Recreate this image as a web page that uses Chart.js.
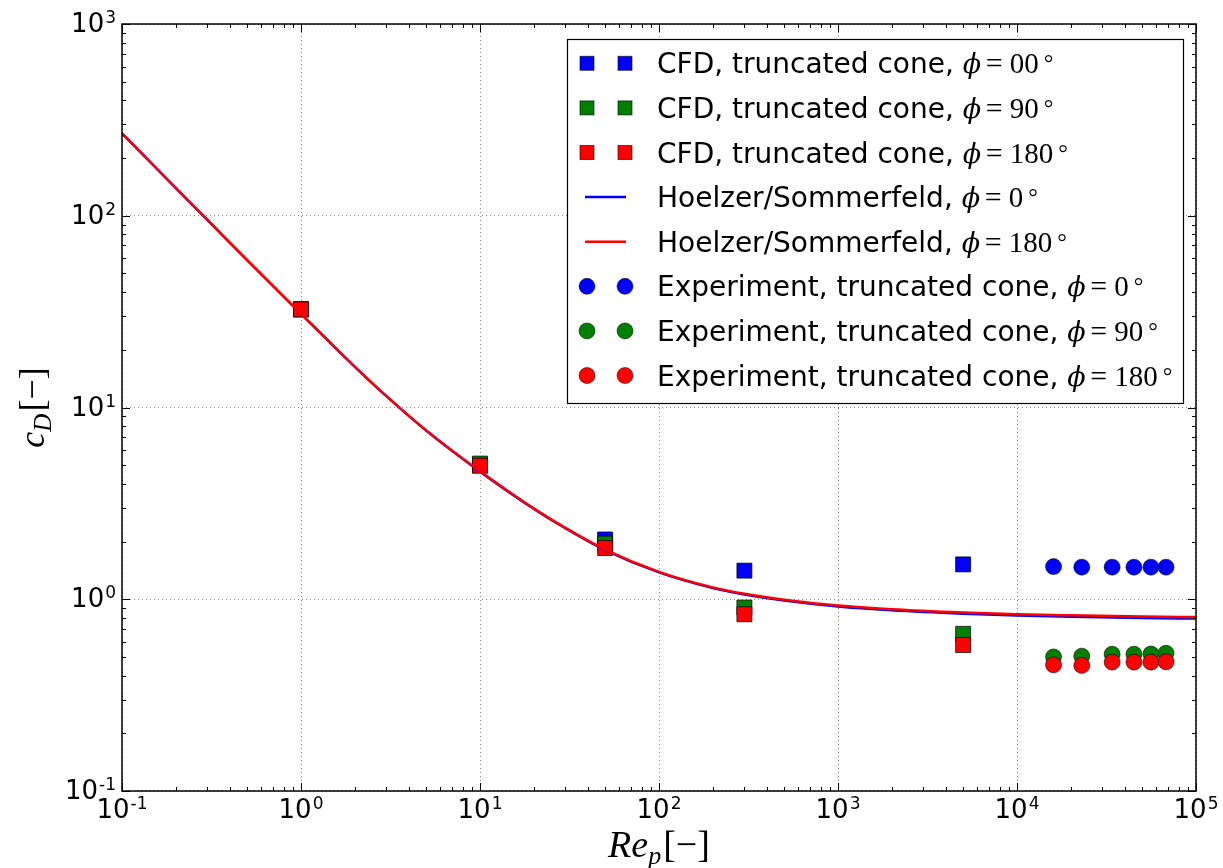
<!DOCTYPE html>
<html>
<head>
<meta charset="utf-8">
<script src="https://cdn.jsdelivr.net/npm/chart.js@4.4.1/dist/chart.umd.min.js"></script>
<style>
  html, body { margin: 0; padding: 0; background: #fff; }
  canvas { display: block; }
</style>
</head>
<body>
<canvas id="chart" width="1223" height="868"></canvas>
<script>
// CFD results (truncated cone) - Re_p and c_D
const cfdRe = [1, 10, 50, 300, 5000];
const cfdPhi0 = [32.5, 5.0, 2.05, 1.41, 1.52];
const cfdPhi90 = [32.5, 5.1, 1.95, 0.905, 0.66];
const cfdPhi180 = [32.5, 4.97, 1.85, 0.835, 0.577];

// Experiment (truncated cone)
const expRe = [16000, 23000, 34000, 45000, 56000, 68000];
const expPhi0 = [1.48, 1.47, 1.47, 1.47, 1.47, 1.47];
const expPhi90 = [0.50, 0.505, 0.517, 0.517, 0.518, 0.523];
const expPhi180 = [0.455, 0.452, 0.47, 0.47, 0.47, 0.472];

// Hoelzer/Sommerfeld correlation
const curveRe = [0.1, 0.2, 0.3, 0.5, 1, 2, 3, 5, 10, 20, 30, 50, 100, 200, 300, 500, 1000, 2000, 5000, 10000, 20000, 50000, 100000];
const hsPhi0 = [269, 139.3, 95.1, 58.7, 30.8, 16.3, 11.46, 7.58, 4.63, 2.96, 2.345, 1.805, 1.38, 1.143, 1.058, 0.984, 0.916, 0.875, 0.84, 0.822, 0.81, 0.799, 0.793];
const hsPhi180 = [269, 139.3, 95.1, 58.7, 30.8, 16.3, 11.46, 7.60, 4.65, 2.97, 2.355, 1.815, 1.39, 1.153, 1.068, 0.994, 0.927, 0.887, 0.853, 0.835, 0.824, 0.813, 0.807];

// axis decades (tick labels are 10^exp)
const xExps = ['-1', '0', '1', '2', '3', '4', '5'];
const yExps = ['-1', '0', '1', '2', '3'];

const legendLabels = [
  'CFD, truncated cone, ', 'CFD, truncated cone, ', 'CFD, truncated cone, ',
  'Hoelzer/Sommerfeld, ', 'Hoelzer/Sommerfeld, ',
  'Experiment, truncated cone, ', 'Experiment, truncated cone, ', 'Experiment, truncated cone, '
];
const legendAngles = ['00', '90', '180', '0', '180', '0', '90', '180'];

const BLUE = '#0000ff', GREEN = '#007f00', RED = '#ff0000';
const legendKinds = ['rect', 'rect', 'rect', 'line', 'line', 'circle', 'circle', 'circle'];
const legendColors = [BLUE, GREEN, RED, BLUE, RED, BLUE, GREEN, RED];

function pts(xs, ys) { return xs.map((x, i) => ({ x: x, y: ys[i] })); }

function logTicks(minExp, maxExp) {
  const out = [];
  for (let e = minExp; e < maxExp; e++) {
    for (let m = 1; m < 10; m++) out.push({ value: m * Math.pow(10, e), major: m === 1 });
  }
  out.push({ value: Math.pow(10, maxExp), major: true });
  return out;
}

function squares(label, ys, color, order) {
  return { label, data: pts(cfdRe, ys), pointStyle: 'rect', pointRadius: 10.6, pointHoverRadius: 10.6,
    backgroundColor: color, borderColor: 'rgba(0,0,0,0.7)', borderWidth: 1, order };
}
function circles(label, ys, color, order) {
  return { label, data: pts(expRe, ys), pointStyle: 'circle', pointRadius: 8, pointHoverRadius: 8,
    backgroundColor: color, borderColor: 'rgba(0,0,0,0.55)', borderWidth: 1, order };
}
function curve(label, ys, color, order) {
  return { label, data: pts(curveRe, ys), showLine: true, pointRadius: 0, borderColor: color,
    backgroundColor: color, borderWidth: 2.5, cubicInterpolationMode: 'monotone', fill: false, order };
}

// draws "10" with a raised exponent
function drawPow(ctx, exp, x, baseline, align) {
  ctx.font = '26px "DejaVu Sans"';
  const wb = ctx.measureText('10').width;
  ctx.font = '17px "DejaVu Sans"';
  const we = ctx.measureText(exp).width;
  const total = wb + 1 + we;
  let x0 = align === 'right' ? x - total : x - total / 2;
  ctx.font = '26px "DejaVu Sans"';
  ctx.fillText('10', x0, baseline);
  ctx.font = '17px "DejaVu Sans"';
  ctx.fillText(exp, x0 + wb + 1, baseline - 9);
}

function drawPhi(ctx, x, baseline, val) {
  ctx.font = 'italic 27px "DejaVu Serif"';
  ctx.fillText('\u03D5', x, baseline);
  ctx.font = '30px "Liberation Serif"';
  ctx.fillText('=', x + 23, baseline);
  ctx.font = '29px "Liberation Serif"';
  ctx.fillText(val, x + 47, baseline);
  const w = ctx.measureText(val).width;
  ctx.font = '24px "Liberation Serif"';
  ctx.fillText('\u00B0', x + 47 + w + 5, baseline - 2);
}

const decor = {
  id: 'decor',
  afterDraw(chart) {
    const ctx = chart.ctx;
    const a = chart.chartArea;
    const xs = chart.scales.x, ys = chart.scales.y;
    ctx.save();

    // frame
    ctx.strokeStyle = '#000';
    ctx.lineWidth = 1.5;
    ctx.strokeRect(a.left, a.top, a.right - a.left, a.bottom - a.top);

    // inward tick marks on all four sides
    ctx.lineWidth = 1;
    ctx.beginPath();
    xs.ticks.forEach(t => {
      const p = Math.round(xs.getPixelForValue(t.value)) + 0.5;
      const len = t.major ? 8 : 4;
      ctx.moveTo(p, a.bottom); ctx.lineTo(p, a.bottom - len);
      ctx.moveTo(p, a.top); ctx.lineTo(p, a.top + len);
    });
    ys.ticks.forEach(t => {
      const p = Math.round(ys.getPixelForValue(t.value)) + 0.5;
      const len = t.major ? 8 : 4;
      ctx.moveTo(a.left, p); ctx.lineTo(a.left + len, p);
      ctx.moveTo(a.right, p); ctx.lineTo(a.right - len, p);
    });
    ctx.stroke();

    // tick labels
    ctx.fillStyle = '#000';
    ctx.textBaseline = 'alphabetic';
    ctx.textAlign = 'left';
    xExps.forEach(e => {
      drawPow(ctx, e, xs.getPixelForValue(Math.pow(10, +e)), a.bottom + 27, 'center');
    });
    yExps.forEach(e => {
      drawPow(ctx, e, a.left - 6, ys.getPixelForValue(Math.pow(10, +e)) + 8, 'right');
    });

    // x title  Re_p[-]
    ctx.font = 'italic 38px "Liberation Serif"';
    const wRe = ctx.measureText('Re').width;
    ctx.font = 'italic 26px "Liberation Serif"';
    const wp = ctx.measureText('p').width;
    ctx.font = '38px "Liberation Serif"';
    const wBr = ctx.measureText('[\u2212]').width;
    let tx = (a.left + a.right) / 2 - (wRe + wp + 2 + wBr) / 2;
    const tb = 857;
    ctx.font = 'italic 38px "Liberation Serif"';
    ctx.fillText('Re', tx, tb);
    ctx.font = 'italic 26px "Liberation Serif"';
    ctx.fillText('p', tx + wRe, tb + 7);
    ctx.font = '38px "Liberation Serif"';
    ctx.fillText('[\u2212]', tx + wRe + wp + 2, tb);

    // y title  c_D[-]
    ctx.save();
    ctx.translate(44, (a.top + a.bottom) / 2);
    ctx.rotate(-Math.PI / 2);
    ctx.font = 'italic 36px "Liberation Serif"';
    const wc = ctx.measureText('c').width;
    ctx.font = 'italic 25px "Liberation Serif"';
    const wD = ctx.measureText('D').width;
    ctx.font = '36px "Liberation Serif"';
    const wBr2 = ctx.measureText('[\u2212]').width;
    const ty0 = -(wc + wD + 2 + wBr2) / 2;
    ctx.font = 'italic 36px "Liberation Serif"';
    ctx.fillText('c', ty0, 0);
    ctx.font = 'italic 25px "Liberation Serif"';
    ctx.fillText('D', ty0 + wc, 7);
    ctx.font = '36px "Liberation Serif"';
    ctx.fillText('[\u2212]', ty0 + wc + wD + 2, 0);
    ctx.restore();

    // legend
    const lx = 567, ly = 39, lw = 616, lh = 364;
    ctx.fillStyle = '#fff';
    ctx.fillRect(lx, ly, lw, lh);
    ctx.strokeStyle = '#000';
    ctx.lineWidth = 1.2;
    ctx.strokeRect(lx + 0.5, ly + 0.5, lw, lh);
    legendLabels.forEach((lab, i) => {
      const cy = 63.3 + i * 44.6;
      const col = legendColors[i];
      const kind = legendKinds[i];
      [587, 625].forEach(mx => {
        if (kind === 'rect') {
          ctx.fillStyle = col;
          ctx.fillRect(mx - 7, cy - 7, 14, 14);
          ctx.strokeStyle = 'rgba(0,0,0,0.6)';
          ctx.lineWidth = 1;
          ctx.strokeRect(mx - 7, cy - 7, 14, 14);
        } else if (kind === 'circle') {
          ctx.beginPath();
          ctx.arc(mx, cy, 8, 0, Math.PI * 2);
          ctx.fillStyle = col;
          ctx.fill();
          ctx.strokeStyle = 'rgba(0,0,0,0.5)';
          ctx.lineWidth = 1;
          ctx.stroke();
        }
      });
      if (kind === 'line') {
        ctx.strokeStyle = col;
        ctx.lineWidth = 2.5;
        ctx.beginPath();
        ctx.moveTo(585, cy); ctx.lineTo(626, cy);
        ctx.stroke();
      }
      ctx.fillStyle = '#000';
      ctx.font = '28px "DejaVu Sans"';
      ctx.fillText(lab, 657, cy + 10);
      const w = ctx.measureText(lab).width;
      drawPhi(ctx, 657 + w, cy + 10, legendAngles[i]);
    });

    ctx.restore();
  }
};

const gridMajor = c => (c.tick && c.tick.major) ? '#8a8a8a' : 'rgba(0,0,0,0)';

new Chart(document.getElementById('chart'), {
  type: 'scatter',
  data: {
    datasets: [
      squares('CFD phi=00', cfdPhi0, BLUE, 9),
      squares('CFD phi=90', cfdPhi90, GREEN, 8),
      squares('CFD phi=180', cfdPhi180, RED, 7),
      curve('Hoelzer/Sommerfeld phi=0', hsPhi0, BLUE, 6),
      curve('Hoelzer/Sommerfeld phi=180', hsPhi180, RED, 5),
      circles('Experiment phi=0', expPhi0, BLUE, 4),
      circles('Experiment phi=90', expPhi90, GREEN, 3),
      circles('Experiment phi=180', expPhi180, RED, 2)
    ]
  },
  options: {
    responsive: false,
    animation: false,
    devicePixelRatio: 1,
    layout: { padding: { left: 122, top: 24, right: 27, bottom: 77 } },
    plugins: { legend: { display: false }, tooltip: { enabled: false } },
    scales: {
      x: {
        type: 'logarithmic', min: 0.1, max: 100000,
        afterBuildTicks: s => { s.ticks = logTicks(-1, 5); },
        ticks: { display: false },
        grid: { color: gridMajor, lineWidth: 1, drawTicks: false },
        border: { display: false, dash: [1, 3] }
      },
      y: {
        type: 'logarithmic', min: 0.1, max: 1000,
        afterBuildTicks: s => { s.ticks = logTicks(-1, 3); },
        ticks: { display: false },
        grid: { color: gridMajor, lineWidth: 1, drawTicks: false },
        border: { display: false, dash: [1, 3] }
      }
    }
  },
  plugins: [decor]
});
</script>
</body>
</html>
